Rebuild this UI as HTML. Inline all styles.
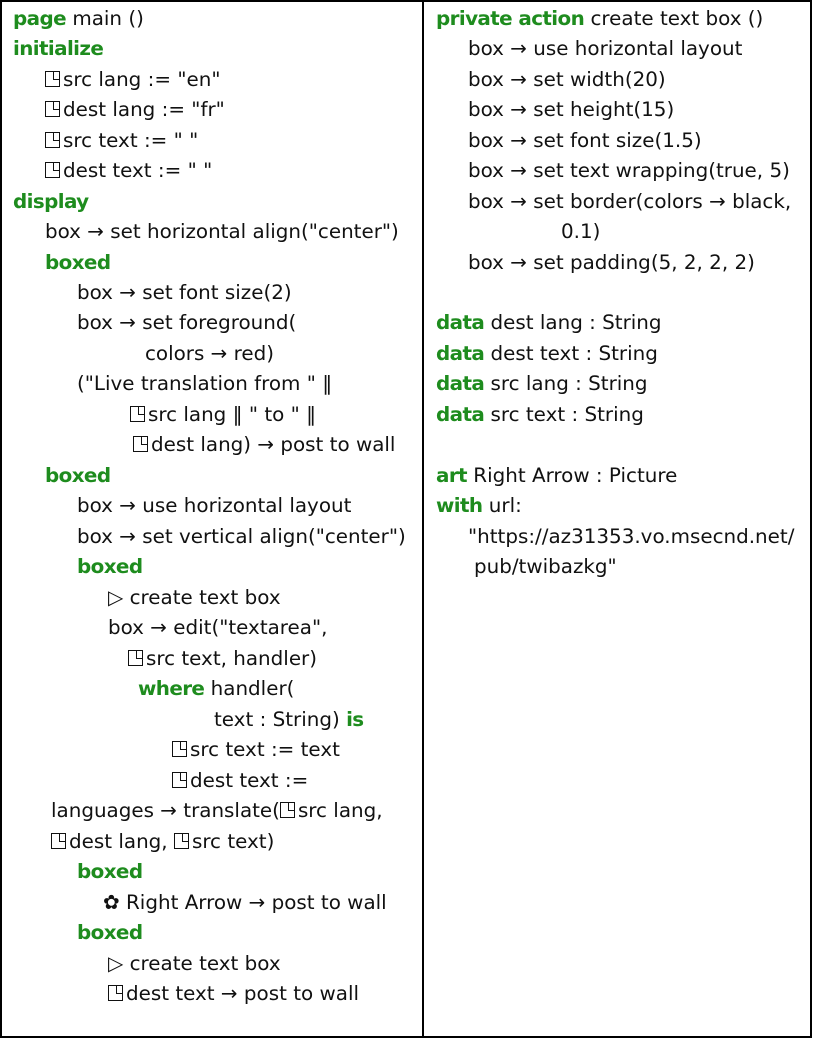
<!DOCTYPE html>
<html><head><meta charset="utf-8"><style>
html,body{margin:0;padding:0;background:#fff;}
body{width:816px;height:1040px;position:relative;overflow:hidden;font-family:"DejaVu Sans","Liberation Sans",sans-serif;font-size:19.9px;color:#111;}
.l{position:absolute;white-space:nowrap;line-height:26px;height:26px;}
.k{color:#1e8c1e;font-weight:bold;letter-spacing:-0.6px;}
.i{display:inline-block;position:relative;width:15px;height:16px;border:1.5px solid #111;box-sizing:border-box;vertical-align:-1px;margin-right:3px;}
.i::after{content:"";position:absolute;right:0;top:0;width:5px;height:7px;border-left:1.5px solid #111;border-bottom:1.5px solid #111;}
.ln{position:absolute;background:#000;}
</style></head><body>
<div class="ln" style="left:0;top:0;width:812px;height:2px"></div>
<div class="ln" style="left:0;top:0;width:2px;height:1038px"></div>
<div class="ln" style="left:810px;top:0;width:2px;height:1038px"></div>
<div class="ln" style="left:422px;top:0;width:1.5px;height:1038px"></div>
<div class="ln" style="left:0;top:1036px;width:812px;height:2px"></div>

<div class="l" style="left:13px;top:6px"><span class="k">page</span> main ()</div>
<div class="l" style="left:13px;top:36px"><span class="k">initialize</span></div>
<div class="l" style="left:45px;top:67px"><span class="i"></span>src lang := "en"</div>
<div class="l" style="left:45px;top:97px"><span class="i"></span>dest lang := "fr"</div>
<div class="l" style="left:45px;top:128px"><span class="i"></span>src text := " "</div>
<div class="l" style="left:45px;top:158px"><span class="i"></span>dest text := " "</div>
<div class="l" style="left:13px;top:189px"><span class="k">display</span></div>
<div class="l" style="left:45px;top:219px">box → set horizontal align("center")</div>
<div class="l" style="left:45px;top:250px"><span class="k">boxed</span></div>
<div class="l" style="left:77px;top:280px">box → set font size(2)</div>
<div class="l" style="left:77px;top:310px">box → set foreground(</div>
<div class="l" style="left:145px;top:341px">colors → red)</div>
<div class="l" style="left:77px;top:371px">("Live translation from " ‖</div>
<div class="l" style="left:130px;top:402px"><span class="i"></span>src lang ‖ " to " ‖</div>
<div class="l" style="left:133px;top:432px"><span class="i"></span>dest lang) → post to wall</div>
<div class="l" style="left:45px;top:463px"><span class="k">boxed</span></div>
<div class="l" style="left:77px;top:493px">box → use horizontal layout</div>
<div class="l" style="left:77px;top:524px">box → set vertical align("center")</div>
<div class="l" style="left:77px;top:554px"><span class="k">boxed</span></div>
<div class="l" style="left:108px;top:585px">▷ create text box</div>
<div class="l" style="left:108px;top:615px">box → edit("textarea",</div>
<div class="l" style="left:128px;top:646px"><span class="i"></span>src text, handler)</div>
<div class="l" style="left:138px;top:676px"><span class="k">where</span> handler(</div>
<div class="l" style="left:214px;top:707px">text : String) <span class="k">is</span></div>
<div class="l" style="left:172px;top:737px"><span class="i"></span>src text := text</div>
<div class="l" style="left:172px;top:768px"><span class="i"></span>dest text :=</div>
<div class="l" style="left:51px;top:798px">languages → translate(<span class="i"></span>src lang,</div>
<div class="l" style="left:51px;top:829px"><span class="i"></span>dest lang, <span class="i"></span>src text)</div>
<div class="l" style="left:77px;top:859px"><span class="k">boxed</span></div>
<div class="l" style="left:103px;top:890px">✿ Right Arrow → post to wall</div>
<div class="l" style="left:77px;top:920px"><span class="k">boxed</span></div>
<div class="l" style="left:108px;top:951px">▷ create text box</div>
<div class="l" style="left:108px;top:981px"><span class="i"></span>dest text → post to wall</div>

<div class="l" style="left:436px;top:6px"><span class="k">private action</span> create text box ()</div>
<div class="l" style="left:468px;top:36px">box → use horizontal layout</div>
<div class="l" style="left:468px;top:67px">box → set width(20)</div>
<div class="l" style="left:468px;top:97px">box → set height(15)</div>
<div class="l" style="left:468px;top:128px">box → set font size(1.5)</div>
<div class="l" style="left:468px;top:158px">box → set text wrapping(true, 5)</div>
<div class="l" style="left:468px;top:189px">box → set border(colors → black,</div>
<div class="l" style="left:561px;top:219px">0.1)</div>
<div class="l" style="left:468px;top:250px">box → set padding(5, 2, 2, 2)</div>
<div class="l" style="left:436px;top:310px"><span class="k">data</span> dest lang : String</div>
<div class="l" style="left:436px;top:341px"><span class="k">data</span> dest text : String</div>
<div class="l" style="left:436px;top:371px"><span class="k">data</span> src lang : String</div>
<div class="l" style="left:436px;top:402px"><span class="k">data</span> src text : String</div>
<div class="l" style="left:436px;top:463px"><span class="k">art</span> Right Arrow : Picture</div>
<div class="l" style="left:436px;top:493px"><span class="k">with</span> url:</div>
<div class="l" style="left:468px;top:524px">"https://az31353.vo.msecnd.net/</div>
<div class="l" style="left:474px;top:554px">pub/twibazkg"</div>
</body></html>
